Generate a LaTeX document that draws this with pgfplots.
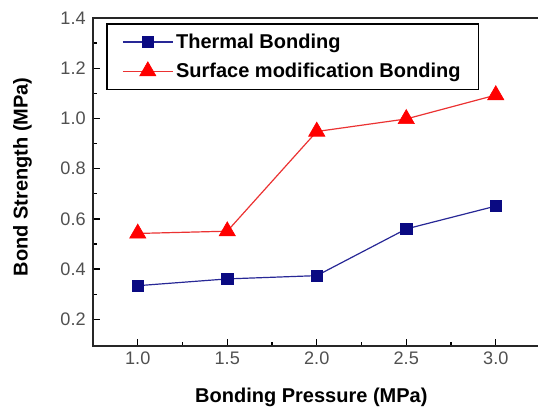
\documentclass[border=0pt]{standalone}
\usepackage{pgfplots}
\pgfplotsset{compat=1.18}
\usepackage{fontspec}
\setmainfont{Liberation Sans}
\definecolor{navy}{RGB}{10,10,130}
\definecolor{navyline}{RGB}{40,40,150}
\definecolor{myred}{RGB}{255,0,0}
\definecolor{redline}{RGB}{235,50,50}
\definecolor{tickgray}{RGB}{80,80,80}
\begin{document}
\begin{tikzpicture}
\begin{axis}[
  scale only axis,
  width=337pt, height=245.8pt,
  xmin=0.75, xmax=3.26,
  ymin=0.095, ymax=1.4,
  xtick={1.0,1.5,2.0,2.5,3.0},
  ytick={0.2,0.4,0.6,0.8,1.0,1.2,1.4},
  minor xtick={1.25,1.75,2.25,2.75},
  minor ytick={0.3,0.5,0.7,0.9,1.1,1.3},
  xticklabels={1.0,1.5,2.0,2.5,3.0},
  yticklabels={0.2,0.4,0.6,0.8,1.0,1.2,1.4},
  xtick pos=bottom, ytick pos=left,
  tick align=inside,
  major tick length=5pt, minor tick length=3pt,
  tick style={black, line width=1pt},
  axis line style={line width=1.4pt, black!85},
  tick label style={font=\fontsize{13.6}{15}\selectfont, text=tickgray},
  xticklabel style={yshift=-1pt},
  yticklabel style={xshift=-2pt},
  /pgf/number format/assume math mode=true,
  xlabel={\bfseries Bonding Pressure (MPa)},
  ylabel={\bfseries Bond Strength (MPa)},
  label style={font=\fontsize{15}{18}\selectfont},
  xlabel style={at={(axis description cs:0.486,-0.157)}, anchor=center},
  ylabel style={at={(axis description cs:-0.157,0.515)}, anchor=center},
  legend style={at={(axis description cs:0.029,0.985)}, anchor=north west,
    draw=black, line width=1.3pt, font=\bfseries\fontsize{15}{18}\selectfont,
    inner xsep=11.5pt, inner ysep=5.5pt, row sep=5.5pt},
  legend cell align=left,
  legend image code/.code={\draw[mark repeat=2,mark phase=2] plot coordinates {(0pt,0pt) (18.75pt,0pt) (37.5pt,0pt)};},
]
\addplot[color=navyline, line width=0.9pt, mark=square*, mark size=4.3pt,
  mark options={solid, draw=navy, fill=navy, line width=0.5pt}]
  coordinates {(1.0,0.334) (1.5,0.361) (2.0,0.374) (2.5,0.560) (3.0,0.651)};
\addlegendentry{Thermal Bonding}
\addplot[color=redline, line width=0.9pt, mark=triangle*, mark size=7pt,
  mark options={solid, draw=myred, fill=myred, line width=0.5pt}]
  coordinates {(1.0,0.542) (1.5,0.551) (2.0,0.948) (2.5,0.998) (3.0,1.093)};
\addlegendentry{Surface modification Bonding}
\coordinate (bbsw) at (axis description cs:-0.207,-0.184);
\coordinate (bbne) at (axis description cs:0.9904,1.0549);
\end{axis}
\pgfresetboundingbox
\path[use as bounding box] (bbsw) rectangle (bbne);
\end{tikzpicture}
\end{document}
